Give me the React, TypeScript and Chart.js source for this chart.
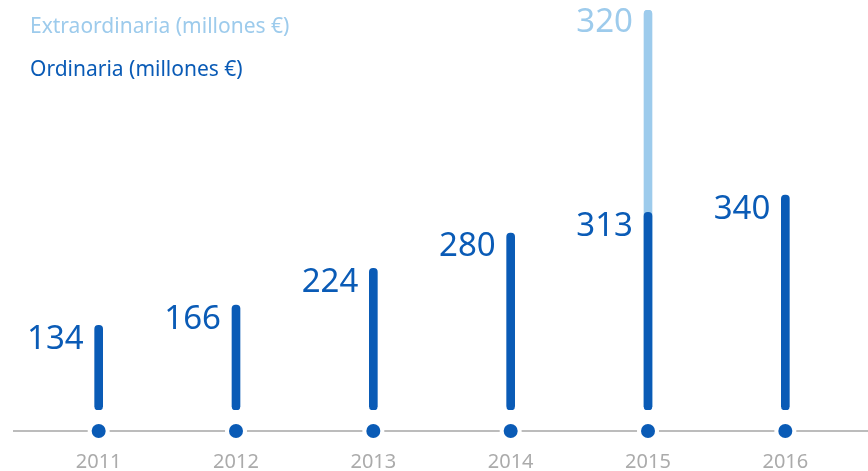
import React, { useEffect, useRef } from "react";
import { Chart, registerables } from "chart.js";

Chart.register(...registerables);

const years = ["2011", "2012", "2013", "2014", "2015", "2016"];
const ordinaria = [134, 166, 224, 280, 313, 340];
const extraordinaria = [null, null, null, null, 320, null];
const legendExtra = "Extraordinaria (millones €)";
const legendOrd = "Ordinaria (millones €)";

const DARK = "#0a5bb6";
const LIGHT = "#9dcbec";
const GRAY_LINE = "#bcbcbc";
const GRAY_TEXT = "#ababab";
const FONT = "'Noto Sans', sans-serif";

export default function App() {
  const ref = useRef<HTMLCanvasElement | null>(null);

  useEffect(() => {
    document.body.style.margin = "0";
    const canvas = ref.current!;
    // extra bar drawn from 0 to (ordinary + extra) behind the ordinary bar
    const extraTotals = extraordinaria.map((v, i) => (v == null ? null : v + ordinaria[i]));
    const maxTotal = Math.max(...ordinaria, ...(extraTotals.filter((v) => v != null) as number[]));

    const overlay = {
      id: "overlay",
      beforeDatasetsDraw(chart: any) {
        const { ctx, chartArea } = chart;
        const xs = chart.scales.x;
        const axisY = chartArea.bottom + 21;
        ctx.save();
        // axis line
        ctx.strokeStyle = GRAY_LINE;
        ctx.lineWidth = 2;
        ctx.beginPath();
        ctx.moveTo(13, axisY);
        ctx.lineTo(chart.width, axisY);
        ctx.stroke();
        years.forEach((y, i) => {
          const x = xs.getPixelForValue(i);
          ctx.fillStyle = "#ffffff";
          ctx.beginPath();
          ctx.arc(x, axisY, 11, 0, Math.PI * 2);
          ctx.fill();
          ctx.fillStyle = DARK;
          ctx.beginPath();
          ctx.arc(x, axisY, 7, 0, Math.PI * 2);
          ctx.fill();
          ctx.fillStyle = GRAY_TEXT;
          ctx.font = `20px ${FONT}`;
          ctx.textAlign = "center";
          ctx.textBaseline = "middle";
          ctx.fillText(y, x, axisY + 31);
        });
        // legend
        ctx.textAlign = "left";
        ctx.textBaseline = "alphabetic";
        ctx.font = `21px ${FONT}`;
        ctx.fillStyle = LIGHT;
        ctx.fillText(legendExtra, 30, 33);
        ctx.fillStyle = DARK;
        ctx.fillText(legendOrd, 30, 76);
        ctx.restore();
      },
      afterDatasetsDraw(chart: any) {
        const { ctx } = chart;
        ctx.save();
        ctx.font = `33px ${FONT}`;
        ctx.textAlign = "right";
        ctx.textBaseline = "middle";
        const m0 = chart.getDatasetMeta(0);
        m0.data.forEach((el: any, i: number) => {
          ctx.fillStyle = DARK;
          ctx.fillText(String(ordinaria[i]), el.x - 15, el.y + 14);
        });
        const m1 = chart.getDatasetMeta(1);
        m1.data.forEach((el: any, i: number) => {
          if (extraordinaria[i] == null) return;
          ctx.fillStyle = LIGHT;
          ctx.fillText(String(extraordinaria[i]), el.x - 15, el.y + 13);
        });
        ctx.restore();
      },
    };

    const radius = { topLeft: 4, topRight: 4, bottomLeft: 4, bottomRight: 4 };
    const chart = new Chart(canvas, {
      type: "bar",
      data: {
        labels: years,
        datasets: [
          {
            label: legendOrd,
            data: ordinaria,
            backgroundColor: DARK,
            barThickness: 8,
            borderRadius: radius,
            borderSkipped: false,
            order: 0,
          },
          {
            label: legendExtra,
            data: extraTotals,
            backgroundColor: LIGHT,
            barThickness: 8,
            borderRadius: radius,
            borderSkipped: false,
            order: 1,
          },
        ],
      },
      options: {
        animation: false,
        responsive: false,
        layout: { padding: { top: 10, bottom: 61, left: 30, right: 14 } },
        plugins: { legend: { display: false }, tooltip: { enabled: false } },
        scales: {
          x: { display: false, stacked: true },
          y: { display: false, stacked: false, min: 0, max: maxTotal },
        },
      },
      plugins: [overlay],
    });
    return () => chart.destroy();
  }, []);

  return (
    <div style={{ width: 868, height: 471 }}>
      <canvas ref={ref} width={868} height={471} style={{ display: "block" }} />
    </div>
  );
}
